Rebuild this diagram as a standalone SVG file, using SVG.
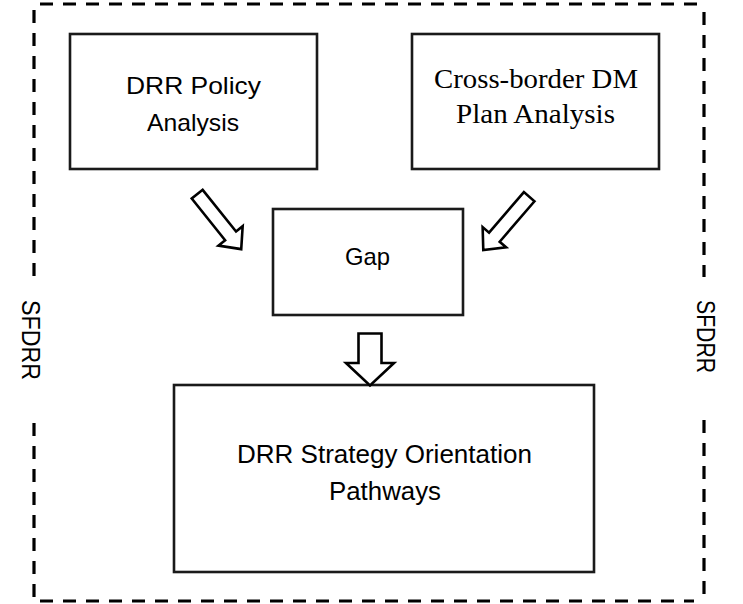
<svg xmlns="http://www.w3.org/2000/svg" width="743" height="604" viewBox="0 0 743 604">
<defs>
<style>
.frame{fill:none;stroke:#000;stroke-width:3.2;stroke-dasharray:13 10}
.box{fill:#fff;stroke:#1a1a1a;stroke-width:2.6}
.sans{font-family:"Liberation Sans",Arial,sans-serif;fill:#000}
.serif{font-family:"Liberation Serif","Times New Roman",serif;fill:#000}
.arrow{fill:#fff;stroke:#000;stroke-width:2.6;stroke-linejoin:miter}
</style>
<polygon id="diagArrow" points="0,-7 53.4,-7 53.4,-15.5 70.4,0 53.4,15.5 53.4,7 0,7"/>
</defs>
<rect width="743" height="604" fill="#fff"/>
<g id="frame">
<path class="frame" d="M40,4 H704"/>
<path class="frame" d="M34,10 V277"/>
<path class="frame" d="M34,423 V601 H694"/>
<path class="frame" d="M704,12 V277"/>
<path class="frame" d="M704,420 V601"/>
<text class="sans" transform="translate(22,300) rotate(90)" font-size="26" textLength="80" lengthAdjust="spacingAndGlyphs">SFDRR</text>
<text class="sans" transform="translate(697,300) rotate(90)" font-size="25" textLength="73" lengthAdjust="spacingAndGlyphs">SFDRR</text>
</g>
<g id="node-policy">
<rect class="box" x="70" y="34" width="247" height="135"/>
<text class="sans" x="126" y="94" font-size="24" textLength="135" lengthAdjust="spacingAndGlyphs">DRR Policy</text>
<text class="sans" x="147" y="131" font-size="24" textLength="92" lengthAdjust="spacingAndGlyphs">Analysis</text>
</g>
<g id="node-crossborder">
<rect class="box" x="412" y="34" width="247" height="135"/>
<text class="serif" x="434" y="88" font-size="28" textLength="204" lengthAdjust="spacingAndGlyphs">Cross-border DM</text>
<text class="serif" x="456" y="123" font-size="28" textLength="159" lengthAdjust="spacingAndGlyphs">Plan Analysis</text>
</g>
<g id="node-gap">
<rect class="box" x="273" y="209" width="190" height="106"/>
<text class="sans" x="345" y="265" font-size="24" textLength="45" lengthAdjust="spacingAndGlyphs">Gap</text>
</g>
<g id="node-strategy">
<rect class="box" x="174" y="385" width="420" height="187"/>
<text class="sans" x="237" y="463" font-size="26" textLength="295" lengthAdjust="spacingAndGlyphs">DRR Strategy Orientation</text>
<text class="sans" x="329" y="500" font-size="26" textLength="112" lengthAdjust="spacingAndGlyphs">Pathways</text>
</g>
<g id="connectors">
<use href="#diagArrow" class="arrow" transform="translate(197.2,194.2) rotate(51.3)"/>
<use href="#diagArrow" class="arrow" transform="translate(529.2,196.7) rotate(130.7)"/>
<polygon class="arrow" points="358.5,333.5 381.5,333.5 381.5,363 394,363 370,385.5 346,363 358.5,363"/>
</g>
</svg>
